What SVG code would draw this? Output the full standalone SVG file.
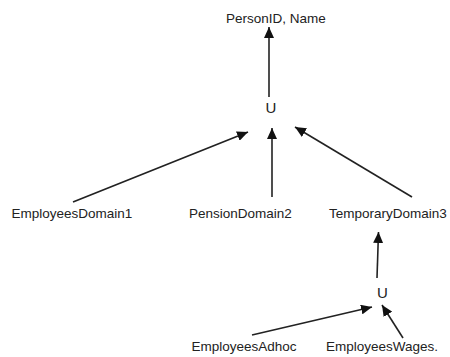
<svg xmlns="http://www.w3.org/2000/svg" width="450" height="357" viewBox="0 0 450 357">
<defs>
<marker id="ah" markerUnits="userSpaceOnUse" markerWidth="12" markerHeight="10" refX="11" refY="5" orient="auto">
<path d="M0,0 L11,5 L0,10 z" fill="#111"/>
</marker>
<style>
.t{font-family:"Liberation Sans",Arial,sans-serif;font-size:13.5px;fill:#222}
.u{font-family:"Liberation Sans",Arial,sans-serif;font-size:15px;fill:#222}
.c{stroke:#222;stroke-width:1.6;fill:none;marker-end:url(#ah)}
</style>
</defs>
<rect width="450" height="357" fill="#fff"/>
<g id="connectors">
<line class="c" x1="269" y1="97" x2="269" y2="27"/>
<line class="c" x1="272" y1="197" x2="272" y2="128"/>
<line class="c" x1="73" y1="202" x2="248" y2="132"/>
<line class="c" x1="412" y1="197" x2="295" y2="127"/>
<line class="c" x1="377" y1="278" x2="378.5" y2="232"/>
<line class="c" x1="252" y1="335" x2="372" y2="307"/>
<line class="c" x1="403" y1="338" x2="382" y2="305"/>
</g>
<g id="n-person"><text class="t" x="226" y="23">PersonID, Name</text></g>
<g id="n-union1"><text class="u" x="271" y="113" text-anchor="middle">U</text></g>
<g id="n-emp1"><text class="t" x="11.5" y="218">EmployeesDomain1</text></g>
<g id="n-pension2"><text class="t" x="189" y="218">PensionDomain2</text></g>
<g id="n-temp3"><text class="t" x="329" y="218">TemporaryDomain3</text></g>
<g id="n-union2"><text class="u" x="382.5" y="298" text-anchor="middle">U</text></g>
<g id="n-adhoc"><text class="t" x="191.5" y="351">EmployeesAdhoc</text></g>
<g id="n-wages"><text class="t" x="326" y="351">EmployeesWages.</text></g>
</svg>
